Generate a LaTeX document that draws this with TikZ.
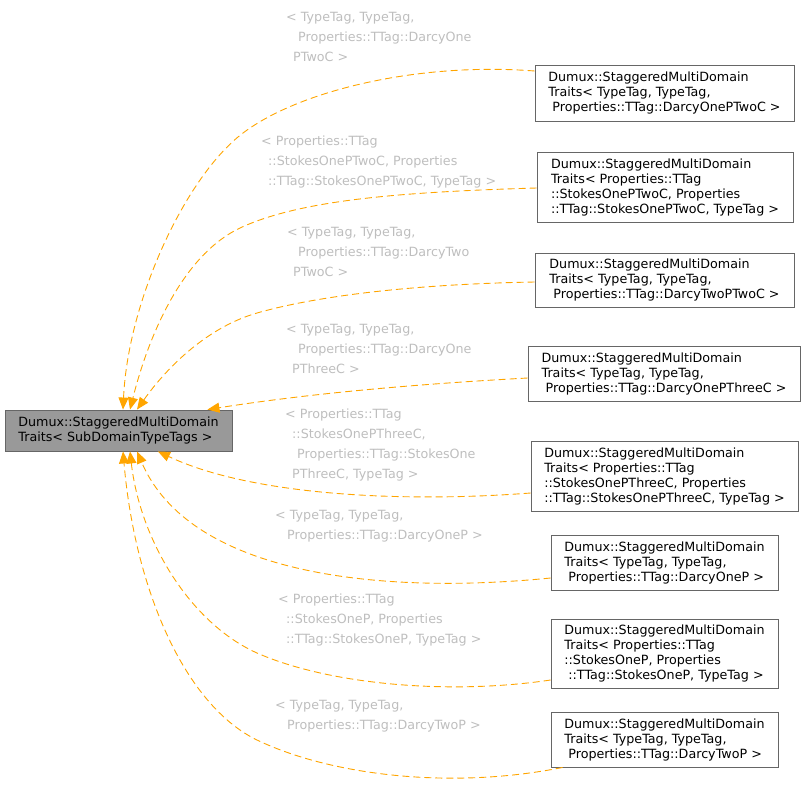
\documentclass[tikz,border=0pt]{standalone}
\usepackage{fontspec}
\setmainfont{DejaVu Sans}
\usetikzlibrary{arrows.meta}
\definecolor{edgeorange}{HTML}{FFA500}
\definecolor{lblgray}{HTML}{BEBEBE}
\definecolor{boxborder}{HTML}{666666}
\definecolor{mainfill}{HTML}{999999}
\tikzset{
  classbox/.style={draw=boxborder, line width=0.9pt, fill=white, align=left,
    font=\fontsize{12.7}{15}\selectfont, inner xsep=6pt, inner ysep=0pt},
  mainbox/.style={classbox, fill=mainfill},
  edgelbl/.style={text=lblgray, align=left, anchor=north west, inner sep=0pt,
    font=\fontsize{12.7}{20}\selectfont},
  dep/.style={draw=edgeorange, line width=0.9pt, dash pattern=on 7pt off 4pt,
    -{Triangle[length=12pt,width=10pt,fill=edgeorange]}},
}
\newcommand{\ind}[1]{\hspace*{#1pt}}
\begin{document}
\begin{tikzpicture}[x=1pt,y=-1pt]
\useasboundingbox (0,0) rectangle (805,788);

% main node
\node[mainbox, minimum width=227pt, minimum height=41pt] (main) at (118.5,430.5)
  {Dumux::StaggeredMultiDomain\\Traits< SubDomainTypeTags >};

% derived nodes
\node[classbox, minimum width=259pt, minimum height=56pt] (b1) at (664.5,93)
  {Dumux::StaggeredMultiDomain\\Traits< TypeTag, TypeTag,\\\ind{4}Properties::TTag::DarcyOnePTwoC >};
\node[classbox, minimum width=256pt, minimum height=70pt] (b2) at (665,187)
  {Dumux::StaggeredMultiDomain\\Traits< Properties::TTag\\::StokesOnePTwoC, Properties\\::TTag::StokesOnePTwoC, TypeTag >};
\node[classbox, minimum width=259pt, minimum height=54pt] (b3) at (664.5,280)
  {Dumux::StaggeredMultiDomain\\Traits< TypeTag, TypeTag,\\\ind{4}Properties::TTag::DarcyTwoPTwoC >};
\node[classbox, minimum width=272pt, minimum height=55pt] (b4) at (664,373.5)
  {Dumux::StaggeredMultiDomain\\Traits< TypeTag, TypeTag,\\\ind{4}Properties::TTag::DarcyOnePThreeC >};
\node[classbox, minimum width=267pt, minimum height=70pt] (b5) at (664.5,476)
  {Dumux::StaggeredMultiDomain\\Traits< Properties::TTag\\::StokesOnePThreeC, Properties\\::TTag::StokesOnePThreeC, TypeTag >};
\node[classbox, minimum width=227pt, minimum height=55pt] (b6) at (664.5,562.5)
  {Dumux::StaggeredMultiDomain\\Traits< TypeTag, TypeTag,\\\ind{4}Properties::TTag::DarcyOneP >};
\node[classbox, minimum width=227pt, minimum height=69pt] (b7) at (664.5,653.5)
  {Dumux::StaggeredMultiDomain\\Traits< Properties::TTag\\::StokesOneP, Properties\\\ind{4}::TTag::StokesOneP, TypeTag >};
\node[classbox, minimum width=227pt, minimum height=55pt] (b8) at (664.5,739.5)
  {Dumux::StaggeredMultiDomain\\Traits< TypeTag, TypeTag,\\\ind{4}Properties::TTag::DarcyTwoP >};

% edge labels
\node[edgelbl] (l1) at (286,12.3)
  {< TypeTag, TypeTag,\\\ind{12}Properties::TTag::DarcyOne\\\ind{7}PTwoC >};
\node[edgelbl] (l2) at (261,135.3)
  {< Properties::TTag\\\ind{7}::StokesOnePTwoC, Properties\\\ind{7}::TTag::StokesOnePTwoC, TypeTag >};
\node[edgelbl] (l3) at (287,227.3)
  {< TypeTag, TypeTag,\\\ind{11}Properties::TTag::DarcyTwo\\\ind{6}PTwoC >};
\node[edgelbl] (l4) at (286,324.3)
  {< TypeTag, TypeTag,\\\ind{12}Properties::TTag::DarcyOne\\\ind{6}PThreeC >};
\node[edgelbl] (l5) at (285,408.3)
  {< Properties::TTag\\\ind{7}::StokesOnePThreeC,\\\ind{12}Properties::TTag::StokesOne\\\ind{7}PThreeC, TypeTag >};
\node[edgelbl] (l6) at (275,510.3)
  {< TypeTag, TypeTag,\\\ind{12}Properties::TTag::DarcyOneP >};
\node[edgelbl] (l7) at (278,593.3)
  {< Properties::TTag\\\ind{8}::StokesOneP, Properties\\\ind{8}::TTag::StokesOneP, TypeTag >};
\node[edgelbl] (l8) at (275,700.3)
  {< TypeTag, TypeTag,\\\ind{12}Properties::TTag::DarcyTwoP >};

% connectors
\draw[dep] ([yshift=22pt]b1.west) .. controls (420,62) and (300,90) .. (243,133)
  .. controls (186,176) and (128,300) .. ([xshift=4.5pt]main.north);
\draw[dep] ([yshift=-1pt]b2.west) .. controls (400,192) and (300,200) .. (240,228)
  .. controls (185,254) and (150,330) .. ([xshift=11.5pt]main.north);
\draw[dep] ([yshift=-2pt]b3.west) .. controls (420,284) and (320,295) .. (257,313)
  .. controls (205,328) and (165,370) .. ([xshift=18.5pt]main.north);
\draw[dep] ([yshift=-4.5pt]b4.west) .. controls (400,385) and (300,395) .. ([xshift=-25pt]main.north east);
\draw[dep] ([yshift=-17pt]b5.west) .. controls (400,503) and (250,495) .. ([xshift=39.5pt]main.south);
\draw[dep] ([yshift=-15.5pt]b6.west) .. controls (380,595) and (190,575) .. ([xshift=18.5pt]main.south);
\draw[dep] ([yshift=-26.5pt]b7.west) .. controls (450,695) and (330,685) .. (257,653)
  .. controls (190,623) and (140,540) .. ([xshift=11.5pt]main.south);
\draw[dep] ([xshift=12pt]b8.south west) .. controls (450,790) and (330,775) .. (257,740)
  .. controls (185,705) and (135,590) .. ([xshift=4.5pt]main.south);
\end{tikzpicture}
\end{document}
